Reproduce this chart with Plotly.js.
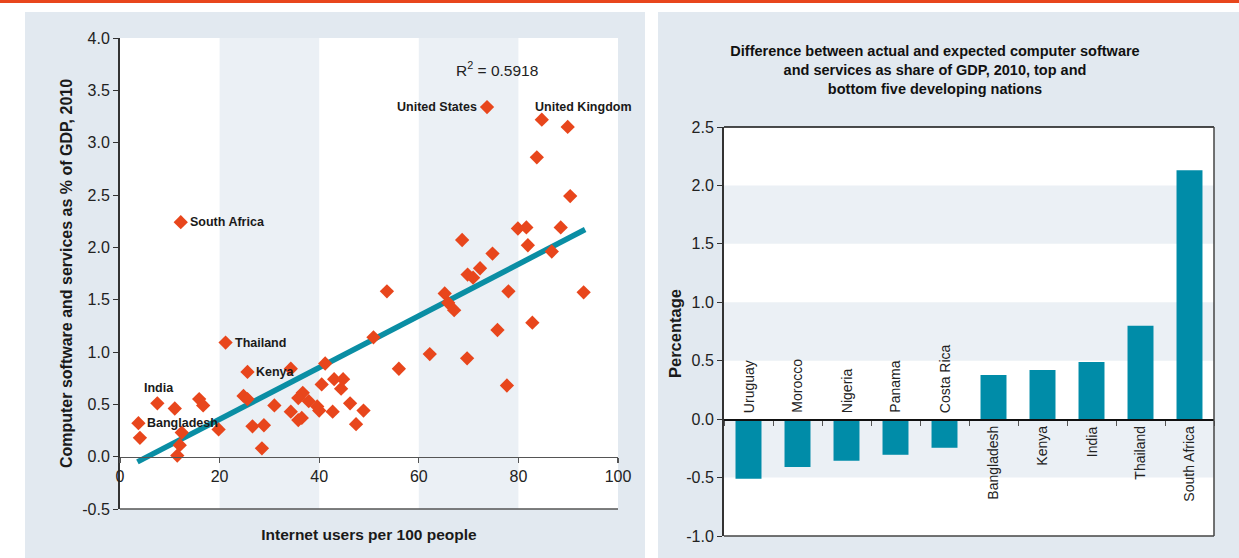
<!DOCTYPE html>
<html>
<head>
<meta charset="utf-8">
<script src="https://cdn.plot.ly/plotly-3.0.1.min.js"></script>
<style>html,body{margin:0;padding:0;background:#fff;}#chart{width:1239px;height:558px;}</style>
</head>
<body>
<div id="chart"></div>
<script>
// ---- Scatter data (internet users per 100, software & services % of GDP) ----
const internetUsers = [3.7, 4.0, 7.5, 11.0, 12.4, 12.0, 11.5, 12.2, 15.9, 16.7, 19.8, 21.2, 25.6, 24.8, 25.6, 26.6, 28.9, 28.5, 31.0, 34.3, 34.3, 36.7, 35.8, 37.9, 35.8, 36.5, 39.6, 40.0, 40.5, 41.2, 42.7, 43.0, 44.8, 44.4, 46.2, 48.9, 47.4, 50.9, 53.6, 56.0, 62.2, 65.2, 65.9, 67.1, 68.7, 69.7, 69.8, 70.9, 72.3, 73.7, 74.8, 75.8, 77.7, 78.0, 79.9, 81.6, 81.9, 82.8, 83.7, 84.7, 86.7, 88.5, 89.9, 90.4, 93.1];
const softwareShare = [0.32, 0.18, 0.51, 0.46, 0.23, 0.11, 0.01, 2.24, 0.55, 0.49, 0.26, 1.09, 0.81, 0.58, 0.55, 0.29, 0.30, 0.08, 0.49, 0.84, 0.43, 0.61, 0.56, 0.53, 0.35, 0.37, 0.48, 0.44, 0.69, 0.89, 0.43, 0.74, 0.74, 0.65, 0.51, 0.44, 0.31, 1.14, 1.58, 0.84, 0.98, 1.56, 1.47, 1.40, 2.07, 0.94, 1.74, 1.71, 1.80, 3.34, 1.94, 1.21, 0.68, 1.58, 2.18, 2.19, 2.02, 1.28, 2.86, 3.22, 1.96, 2.19, 3.15, 2.49, 1.57];

// Trend line endpoints
const trendX = [3.5, 93.4];
const trendY = [-0.05, 2.17];
const rSquaredText = 'R<sup>2</sup> = 0.5918';

// Labelled countries in the scatter
const labelNames = ['United States', 'United Kingdom', 'South Africa', 'Thailand', 'Kenya', 'India', 'Bangladesh'];
const labelX = [73.7, 83.0, 12.2, 21.2, 25.6, 7.5, 3.7];
const labelY = [3.34, 3.34, 2.24, 1.09, 0.81, 0.51, 0.32];
const labelSide = ['left', 'right', 'right', 'right', 'right', 'above', 'right'];

// ---- Bar data ----
const countries = ['Uruguay', 'Morocco', 'Nigeria', 'Panama', 'Costa Rica', 'Bangladesh', 'Kenya', 'India', 'Thailand', 'South Africa'];
const difference = [-0.51, -0.41, -0.355, -0.305, -0.245, 0.378, 0.42, 0.489, 0.80, 2.13];

const leftYTicks = [-0.5, 0, 0.5, 1, 1.5, 2, 2.5, 3, 3.5, 4];
const leftYText = ['-0.5', '0.0', '0.5', '1.0', '1.5', '2.0', '2.5', '3.0', '3.5', '4.0'];
const leftXTicks = [0, 20, 40, 60, 80, 100];
const rightYTicks = [-1, -0.5, 0, 0.5, 1, 1.5, 2, 2.5];
const rightYText = ['-1.0', '-0.5', '0.0', '0.5', '1.0', '1.5', '2.0', '2.5'];

// ---- Styling ----
const FONT = '"Liberation Sans", Arial, sans-serif';
const ORANGE = '#e8461c';
const TEAL = '#0a8ea4';
const BAR = '#008ca8';
const PANEL = '#e2e9f0';
const BAND = '#ebf0f5';
const W = 1239, H = 558;

const px = v => v / W;
const py = v => 1 - v / H;

const leftDomX = [px(120), px(618)];
const leftDomY = [py(509), py(38)];
const rightDomX = [px(724), px(1214)];
const rightDomY = [py(536), py(127)];
const leftRange = [-0.5, 4];
const rightRange = [-1, 2.5];
const zeroPos = (dom, rng) => dom[0] + (0 - rng[0]) / (rng[1] - rng[0]) * (dom[1] - dom[0]);

const traces = [
  {
    type: 'scatter', mode: 'lines', x: trendX, y: trendY,
    line: {color: TEAL, width: 5.5}, xaxis: 'x', yaxis: 'y', hoverinfo: 'skip'
  },
  {
    type: 'scatter', mode: 'markers', x: internetUsers, y: softwareShare,
    marker: {symbol: 'diamond', size: 11, color: ORANGE, line: {width: 0}},
    xaxis: 'x', yaxis: 'y'
  },
  {
    type: 'bar', x: countries, y: difference, marker: {color: BAR},
    xaxis: 'x2', yaxis: 'y2'
  }
];

const labelFont = {family: FONT, size: 12.5, color: '#1a1a1a', weight: 'bold'};
const annotations = [];
labelNames.forEach((n, i) => {
  const a = {x: labelX[i], y: labelY[i], xref: 'x', yref: 'y', text: n, showarrow: false, font: labelFont};
  if (labelSide[i] === 'left') { a.xanchor = 'right'; a.xshift = -8; a.yanchor = 'middle'; }
  else if (labelSide[i] === 'right') { a.xanchor = 'left'; a.xshift = i === 1 ? 0 : 7; a.yanchor = 'middle'; }
  else { a.xanchor = 'center'; a.yanchor = 'bottom'; a.yshift = 6; a.xshift = 2; }
  annotations.push(a);
});
annotations.push({
  x: 75.7, y: 3.70, xref: 'x', yref: 'y', text: rSquaredText, showarrow: false,
  xanchor: 'center', yanchor: 'middle', font: {family: FONT, size: 15.5, color: '#222'}
});
countries.forEach((c, i) => {
  const neg = difference[i] < 0;
  annotations.push({
    x: c, y: 0, xref: 'x2', yref: 'y2', text: c, showarrow: false, textangle: -90,
    yanchor: neg ? 'bottom' : 'top', yshift: neg ? 4 : -5, xanchor: 'center',
    font: {family: FONT, size: 14, color: '#222'}
  });
});
annotations.push({
  x: px(675), y: py(334), xref: 'paper', yref: 'paper', text: 'Percentage', showarrow: false,
  textangle: -90, xanchor: 'center', yanchor: 'middle',
  font: {family: FONT, size: 16.5, color: '#1a1a1a', weight: 'bold'}
});

const shapes = [
  {type: 'rect', xref: 'paper', yref: 'paper', x0: 0, x1: 1, y0: py(3), y1: 1, fillcolor: ORANGE, line: {width: 0}, layer: 'below'},
  {type: 'rect', xref: 'paper', yref: 'paper', x0: px(25), x1: px(645), y0: 0, y1: py(12), fillcolor: PANEL, line: {width: 0}, layer: 'below'},
  {type: 'rect', xref: 'paper', yref: 'paper', x0: px(658), x1: 1, y0: 0, y1: py(12), fillcolor: PANEL, line: {width: 0}, layer: 'below'},
  {type: 'rect', xref: 'x domain', yref: 'y domain', x0: 0, x1: 1, y0: 0, y1: 1, fillcolor: '#fff', line: {width: 0}, layer: 'below'},
  {type: 'rect', xref: 'x', yref: 'y domain', x0: 20, x1: 40, y0: 0, y1: 1, fillcolor: BAND, line: {width: 0}, layer: 'below'},
  {type: 'rect', xref: 'x', yref: 'y domain', x0: 60, x1: 80, y0: 0, y1: 1, fillcolor: BAND, line: {width: 0}, layer: 'below'},
  {type: 'line', xref: 'x domain', yref: 'y domain', x0: 0, x1: 1, y0: 0, y1: 0, line: {color: '#555', width: 1.5}},
  {type: 'rect', xref: 'x2 domain', yref: 'y2 domain', x0: 0, x1: 1, y0: 0, y1: 1, fillcolor: '#fff', line: {width: 0}, layer: 'below'},
  {type: 'rect', xref: 'x2 domain', yref: 'y2', x0: 0, x1: 1, y0: 1.5, y1: 2.0, fillcolor: BAND, line: {width: 0}, layer: 'below'},
  {type: 'rect', xref: 'x2 domain', yref: 'y2', x0: 0, x1: 1, y0: 0.5, y1: 1.0, fillcolor: BAND, line: {width: 0}, layer: 'below'},
  {type: 'rect', xref: 'x2 domain', yref: 'y2', x0: 0, x1: 1, y0: -0.5, y1: 0, fillcolor: BAND, line: {width: 0}, layer: 'below'},
  {type: 'line', xref: 'x2 domain', yref: 'y2 domain', x0: 0, x1: 1, y0: 1, y1: 1, line: {color: '#111', width: 1.5}},
  {type: 'line', xref: 'x2 domain', yref: 'y2 domain', x0: 1, x1: 1, y0: 0, y1: 1, line: {color: '#444', width: 1.5}},
  {type: 'line', xref: 'x2 domain', yref: 'y2 domain', x0: 0, x1: 1, y0: 0, y1: 0, line: {color: '#444', width: 1.5}}
];

const tickFont = {family: FONT, size: 16, color: '#222'};

const layout = {
  width: W, height: H,
  margin: {l: 0, r: 0, t: 0, b: 0},
  paper_bgcolor: '#fff', plot_bgcolor: 'rgba(0,0,0,0)',
  showlegend: false,
  bargap: 0.47,
  font: {family: FONT},
  title: {
    text: 'Difference between actual and expected computer software<br>and services as share of GDP, 2010, top and<br>bottom five developing nations',
    x: px(935), xanchor: 'center', xref: 'paper', y: py(56), yanchor: 'top', yref: 'container',
    font: {family: FONT, size: 14.5, color: '#111', weight: 'bold'}
  },
  xaxis: {
    domain: leftDomX, range: [0, 100], anchor: 'free', position: zeroPos(leftDomY, leftRange),
    tickvals: leftXTicks, ticks: 'outside', ticklen: 5, tickcolor: '#555', tickwidth: 1.2,
    showline: true, linecolor: '#555', linewidth: 1.5, showgrid: false, zeroline: false,
    tickfont: tickFont,
    title: {text: 'Internet users per 100 people', standoff: 45, font: {family: FONT, size: 15.5, color: '#1a1a1a', weight: 'bold'}}
  },
  yaxis: {
    domain: leftDomY, range: leftRange, anchor: 'x',
    tickvals: leftYTicks, ticktext: leftYText, ticks: 'outside', ticklen: 5, tickcolor: '#333',
    showline: true, linecolor: '#333', linewidth: 2, showgrid: false, zeroline: false,
    tickfont: tickFont,
    title: {text: 'Computer software and services as % of GDP, 2010', standoff: 6, font: {family: FONT, size: 16, color: '#1a1a1a', weight: 'bold'}}
  },
  xaxis2: {
    domain: rightDomX, anchor: 'free', position: zeroPos(rightDomY, rightRange),
    type: 'category', ticks: 'outside', tickson: 'boundaries', ticklen: 5, tickcolor: '#555',
    showticklabels: false, showline: true, linecolor: '#111', linewidth: 1.5, showgrid: false, zeroline: false
  },
  yaxis2: {
    domain: rightDomY, range: rightRange, anchor: 'x2',
    tickvals: rightYTicks, ticktext: rightYText, ticks: 'outside', ticklen: 5, tickcolor: '#333',
    showline: true, linecolor: '#333', linewidth: 2, showgrid: false, zeroline: false,
    tickfont: tickFont
  },
  shapes: shapes,
  annotations: annotations
};

Plotly.newPlot('chart', traces, layout, {displayModeBar: false, staticPlot: true});
</script>
</body>
</html>
